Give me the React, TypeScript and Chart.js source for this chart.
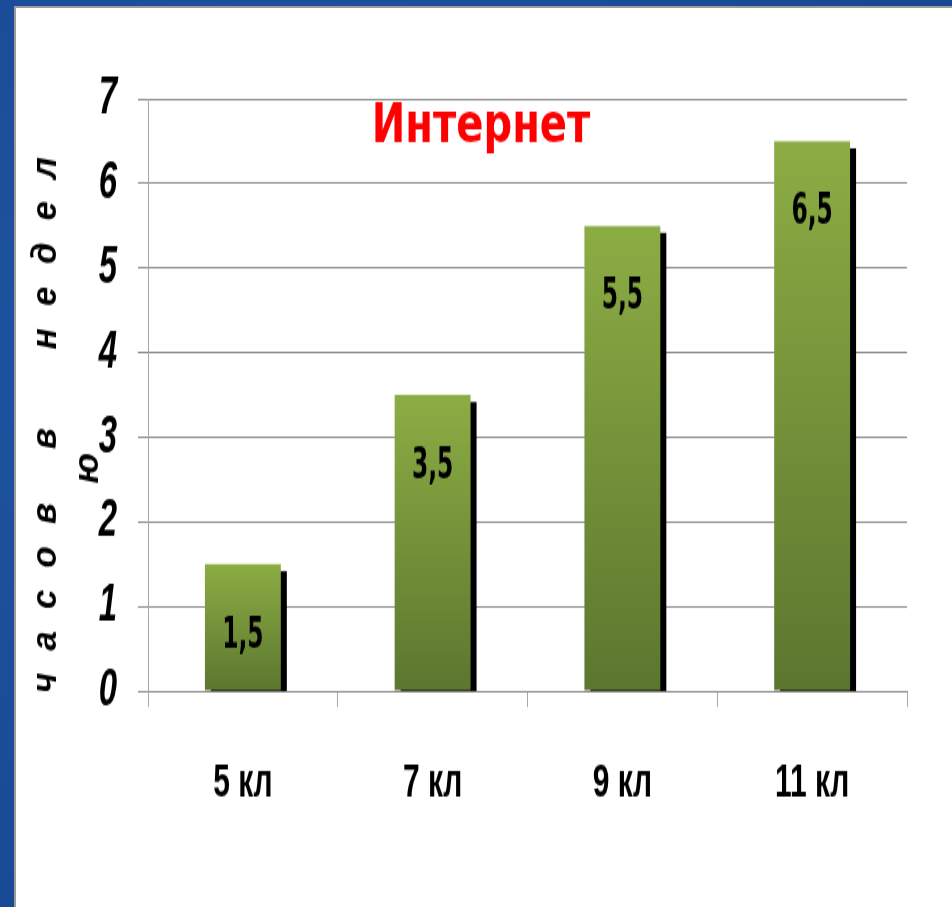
import React, { useEffect, useRef } from 'react';
import { Chart, registerables } from 'chart.js';

Chart.register(...registerables);

// ---- data ----
const categories = ['5 кл', '7 кл', '9 кл', '11 кл'];
const hours = [1.5, 3.5, 5.5, 6.5];
const valueLabels = ['1,5', '3,5', '5,5', '6,5'];
const yTickValues = [0, 1, 2, 3, 4, 5, 6, 7];
const chartTitle = 'Интернет';
const yTitleMain = 'часов в\u2003недел';
const yTitleTail = 'ю';

// ---- geometry: canvas drawn in unstretched units, stretched vertically by S on screen ----
const W = 938;
const H = 563;
const S = 901 / H;
const OX = 14; // canvas left on page
const OY = 6; // canvas top on page
const sy = (screenY: number) => (screenY - OY) / S;

const shadowPlugin = {
  id: 'barShadow',
  beforeDatasetsDraw(chart: any) {
    const { ctx, chartArea } = chart;
    const meta = chart.getDatasetMeta(0);
    ctx.save();
    ctx.beginPath();
    ctx.rect(chartArea.left, chartArea.top, chartArea.right - chartArea.left, chartArea.bottom - chartArea.top);
    ctx.clip();
    ctx.fillStyle = '#000000';
    meta.data.forEach((el: any) => {
      const { x, y, width, base } = el.getProps(['x', 'y', 'width', 'base'], true);
      ctx.fillRect(x - width / 2 + 6, y + 7 / S, width, base - y);
    });
    ctx.restore();
  },
};

const labelPlugin = {
  id: 'valueLabels',
  afterDatasetsDraw(chart: any) {
    const { ctx } = chart;
    const meta = chart.getDatasetMeta(0);
    ctx.save();
    ctx.font = "bold 26px 'DejaVu Sans Condensed', 'DejaVu Sans', sans-serif";
    ctx.fillStyle = '#000000';
    ctx.textAlign = 'center';
    ctx.textBaseline = 'middle';
    meta.data.forEach((el: any, i: number) => {
      const { x, y } = el.getProps(['x', 'y'], true);
      ctx.fillText(valueLabels[i], x, y + 72 / S);
    });
    ctx.restore();
  },
};

const titlePlugin = {
  id: 'overlayTitle',
  afterDraw(chart: any) {
    const { ctx } = chart;
    ctx.save();
    ctx.font = "bold 34px 'DejaVu Sans', sans-serif";
    ctx.fillStyle = '#ff0000';
    ctx.textAlign = 'center';
    ctx.textBaseline = 'alphabetic';
    ctx.translate(481 - OX, sy(142));
    ctx.scale(1.18, 1);
    ctx.fillText(chartTitle, 0, 0);
    ctx.restore();
  },
};

const Y_TITLE_FONT = "italic bold 35px 'Liberation Sans', sans-serif";

const yTitlePlugin = {
  id: 'yAxisTitle',
  afterDraw(chart: any) {
    const { ctx } = chart;
    ctx.save();
    ctx.font = Y_TITLE_FONT;
    ctx.fillStyle = '#000000';
    ctx.textBaseline = 'middle';
    ctx.textAlign = 'left';
    (ctx as any).letterSpacing = '22px';
    ctx.translate(46 - OX, sy(693));
    ctx.scale(1, 1 / S);
    ctx.rotate(-Math.PI / 2);
    ctx.fillText(yTitleMain, 0, 0);
    ctx.restore();

    ctx.save();
    ctx.font = Y_TITLE_FONT;
    ctx.fillStyle = '#000000';
    ctx.textBaseline = 'middle';
    ctx.textAlign = 'center';
    ctx.translate(88 - OX, sy(468));
    ctx.scale(1, 1 / S);
    ctx.rotate(-Math.PI / 2);
    ctx.fillText(yTitleTail, 0, 0);
    ctx.restore();
  },
};

export default function App() {
  const canvasRef = useRef<HTMLCanvasElement | null>(null);

  useEffect(() => {
    document.body.style.margin = '0';
    const canvas = canvasRef.current;
    if (!canvas) return;
    const chart = new Chart(canvas, {
      type: 'bar',
      data: {
        labels: categories,
        datasets: [
          {
            data: hours,
            barPercentage: 0.4,
            categoryPercentage: 1,
            backgroundColor: (c: any) => {
              const ch = c.chart;
              const ys = ch.scales && ch.scales.y;
              if (!ys || c.dataIndex === undefined) return '#76963a';
              const top = ys.getPixelForValue(hours[c.dataIndex]);
              const bottom = ys.getPixelForValue(0);
              if (!isFinite(top) || !isFinite(bottom)) return '#76963a';
              const g = ch.ctx.createLinearGradient(0, top, 0, bottom);
              g.addColorStop(0, '#8cad44');
              g.addColorStop(1, '#5b772f');
              return g;
            },
            borderWidth: 0,
          },
        ],
      },
      options: {
        responsive: false,
        animation: false,
        layout: { padding: { top: sy(99), right: 45, left: 0, bottom: 0 } },
        plugins: {
          legend: { display: false },
          tooltip: { enabled: false },
          title: { display: false },
        },
        scales: {
          x: {
            afterFit: (scale: any) => {
              scale.height = H - sy(691);
            },
            grid: {
              display: true,
              drawOnChartArea: false,
              drawTicks: true,
              tickLength: 10,
              color: '#a8a8a8',
              offset: true,
            },
            border: { display: true, color: '#8a8a8a' },
            ticks: {
              color: '#000000',
              padding: 29.5,
              maxRotation: 0,
              font: { family: "'Liberation Sans', sans-serif", size: 30, weight: 'bold' },
            },
          },
          y: {
            min: yTickValues[0],
            max: yTickValues[yTickValues.length - 1],
            afterFit: (scale: any) => {
              scale.width = 148 - OX;
            },
            afterBuildTicks: (scale: any) => {
              scale.ticks = yTickValues.map((v) => ({ value: v }));
            },
            grid: { color: '#8c8c8c', tickLength: 10 },
            border: { display: true, color: '#a6a6a6' },
            ticks: {
              color: '#000000',
              padding: 21,
              font: { family: "'Liberation Sans', sans-serif", size: 33, weight: 'bold', style: 'italic' },
            },
          },
        },
      },
      plugins: [shadowPlugin, labelPlugin, titlePlugin, yTitlePlugin],
    } as any);
    return () => chart.destroy();
  }, []);

  return (
    <div
      style={{
        position: 'relative',
        width: 952,
        height: 907,
        overflow: 'hidden',
        background: 'radial-gradient(circle at 30% 40%, #2357a6 0%, #1b4d9a 50%, #17458e 100%)',
      }}
    >
      <div
        style={{
          position: 'absolute',
          left: OX,
          top: OY,
          width: 952 - OX,
          height: 907 - OY,
          background: '#ffffff',
          borderLeft: '2px solid #9c9c9c',
          borderTop: '2px solid #9c9c9c',
          boxSizing: 'border-box',
        }}
      />
      <canvas
        ref={canvasRef}
        width={W}
        height={H}
        style={{
          position: 'absolute',
          left: OX,
          top: OY,
          transform: `scaleY(${S})`,
          transformOrigin: '0 0',
        }}
      />
    </div>
  );
}
